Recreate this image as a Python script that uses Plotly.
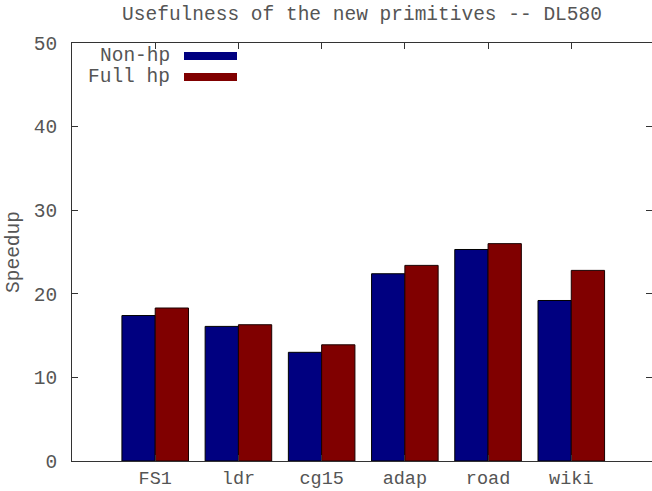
import plotly.graph_objects as go

# Speedup per graph for the two builds
categories = ["FS1", "ldr", "cg15", "adap", "road", "wiki"]
non_hp = [17.4, 16.1, 13.0, 22.4, 25.3, 19.2]
full_hp = [18.3, 16.3, 13.9, 23.4, 26.0, 22.8]
y_ticks = [0, 10, 20, 30, 40, 50]

BLUE = "#000080"
RED = "#800000"
FONT = "Liberation Mono, Courier New, monospace"
TXT = "#555555"
FS = 19.5

fig = go.Figure()
fig.add_trace(go.Bar(x=categories, y=non_hp, name="Non-hp", marker=dict(color=BLUE, line=dict(color="#000000", width=1))))
fig.add_trace(go.Bar(x=categories, y=full_hp, name="Full hp", marker=dict(color=RED, line=dict(color="#1a0000", width=1))))

fig.update_layout(
    width=652, height=491,
    margin=dict(l=72, r=0, t=43, b=30, autoexpand=False),
    paper_bgcolor="white", plot_bgcolor="white",
    barmode="group", bargap=0.2, bargroupgap=0.0,
    showlegend=False,
    font=dict(family=FONT, size=FS, color=TXT),
    title=dict(text="Usefulness of the new primitives -- DL580", x=362/652, xanchor="center",
               y=1 - 13/491, yanchor="middle", font=dict(family=FONT, size=FS, color=TXT)),
)
fig.update_xaxes(
    range=[-1, 5.97], showline=True, linecolor="#333", linewidth=1, mirror="ticks",
    ticks="inside", ticklen=6, tickcolor="#333", showgrid=False, zeroline=False,
    ticklabelstandoff=0, automargin=False, tickfont=dict(size=18.5),
)
fig.update_yaxes(
    range=[0, 50], tickvals=y_ticks, showline=True, linecolor="#333", linewidth=1, mirror="ticks",
    ticks="inside", ticklen=6, tickcolor="#333", showgrid=False, zeroline=False,
    ticklabelstandoff=10, automargin=False,
    title=dict(text="Speedup", standoff=8, font=dict(family=FONT, size=FS, color=TXT)),
)

# gnuplot-style key: label text followed by a colour swatch
for label, color, yp in [("Non-hp", BLUE, 56), ("Full hp", RED, 77)]:
    fig.add_annotation(xref="paper", yref="paper", x=(172 - 72) / 580, y=1 - (yp - 43) / 418,
                       text=label, showarrow=False, xanchor="right", yanchor="middle",
                       font=dict(family=FONT, size=FS, color=TXT))
    fig.add_shape(type="rect", xref="paper", yref="paper",
                  x0=(184 - 72) / 580, x1=(237 - 72) / 580,
                  y0=1 - (yp + 4 - 43) / 418, y1=1 - (yp - 4 - 43) / 418,
                  fillcolor=color, line=dict(width=0))

fig.write_html("out.html")
